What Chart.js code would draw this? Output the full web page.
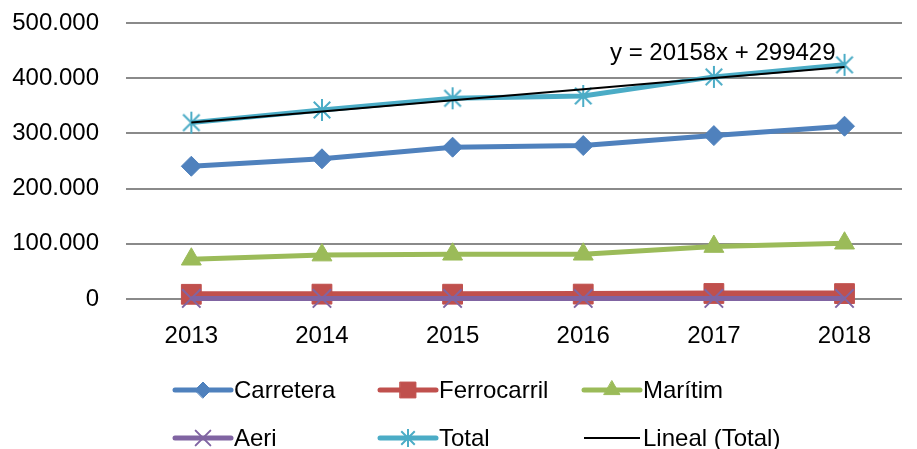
<!DOCTYPE html>
<html><head><meta charset="utf-8">
<script src="https://cdn.jsdelivr.net/npm/chart.js@4/dist/chart.umd.min.js"></script>
<style>html,body{margin:0;padding:0;background:#fff;}#wrap{width:917px;height:449px;}</style>
</head><body><div id="wrap"><canvas id="c" width="917" height="449"></canvas></div>
<script>
const years = [2013, 2014, 2015, 2016, 2017, 2018];
const carretera = [240500, 254000, 275000, 278000, 296000, 313000];
const ferrocarril = [8500, 8800, 8700, 8900, 10000, 9800];
const maritim = [72000, 79500, 81000, 81000, 95000, 101000];
const aeri = [1000, 1000, 1000, 1000, 1100, 1100];
const total = [319500, 342400, 363600, 367800, 402400, 424200];
const trendTotal = [319587, 339745, 359903, 380061, 400219, 420377];
const yTicks = [0, 100000, 200000, 300000, 400000, 500000];
const seriesNames = ['Carretera', 'Ferrocarril', 'Marítim', 'Aeri', 'Total', 'Lineal (Total)'];
const trendLabel = 'y = 20158x + 299429';

const FONT = {family: "'Liberation Sans', Arial, sans-serif", size: 24};
const FONT_CSS = "24px 'Liberation Sans', Arial, sans-serif";
const COLORS = ['#4F81BD', '#C0504D', '#9BBB59', '#8064A2', '#4BACC6', '#000000'];

function starCanvas(color, size, lw) {
  const c = document.createElement('canvas');
  c.width = size; c.height = size;
  const g = c.getContext('2d');
  g.strokeStyle = color; g.lineWidth = lw; g.lineCap = 'butt';
  const m = size / 2, r = size / 2 - 1;
  g.beginPath();
  g.moveTo(m, m - r); g.lineTo(m, m + r);
  const d = r * 0.75;
  g.moveTo(m - d, m - d); g.lineTo(m + d, m + d);
  g.moveTo(m + d, m - d); g.lineTo(m - d, m + d);
  g.stroke();
  return c;
}
const starImg = starCanvas(COLORS[4], 24, 2);
const starImgSmall = starCanvas(COLORS[4], 20, 2);

function pts(arr) { return arr.map((v, i) => ({x: years[i], y: v})); }
function fmt(v) { return String(v).replace(/\B(?=(\d{3})+(?!\d))/g, '.'); }

const styles = [
  {pointStyle: 'rectRot', radius: 10, bw: 1, lw: 5},
  {pointStyle: 'rect', radius: 14, bw: 1, lw: 6},
  {pointStyle: 'triangle', radius: 11.5, bw: 1, lw: 5},
  {pointStyle: 'crossRot', radius: 13, bw: 2, lw: 5},
  {pointStyle: starImg, radius: 12, bw: 2, lw: 5},
  {pointStyle: false, radius: 0, bw: 0, lw: 2}
];
const seriesData = [carretera, ferrocarril, maritim, aeri, total, trendTotal];
const orders = [5, 4, 3, 2, 1, 0];

const datasets = seriesData.map((d, i) => ({
  label: seriesNames[i],
  data: pts(d),
  borderColor: COLORS[i],
  backgroundColor: COLORS[i],
  borderWidth: styles[i].lw,
  pointStyle: styles[i].pointStyle,
  pointRadius: styles[i].radius,
  pointHoverRadius: styles[i].radius,
  pointBackgroundColor: COLORS[i],
  pointBorderColor: COLORS[i],
  pointBorderWidth: styles[i].bw,
  tension: 0,
  fill: false,
  clip: false,
  order: orders[i]
}));

const legendPlugin = {
  id: 'customLegend',
  afterDraw(chart) {
    const ctx = chart.ctx;
    const cols = [175, 380, 584];
    const rows = [390, 438];
    const sampleLen = 56;
    ctx.save();
    for (let i = 0; i < 6; i++) {
      const x = cols[i % 3], y = rows[Math.floor(i / 3)];
      ctx.strokeStyle = COLORS[i];
      ctx.lineWidth = i === 5 ? 2 : 5;
      ctx.lineCap = i === 5 ? 'butt' : 'round';
      ctx.beginPath();
      ctx.moveTo(x, y); ctx.lineTo(x + sampleLen, y);
      ctx.stroke();
      if (i < 5) {
        ctx.fillStyle = COLORS[i];
        ctx.strokeStyle = COLORS[i];
        ctx.lineWidth = styles[i].bw;
        const ps = i === 4 ? starImgSmall : styles[i].pointStyle;
        Chart.helpers.drawPoint(ctx, {pointStyle: ps, rotation: 0, radius: styles[i].radius * 0.8, borderWidth: styles[i].bw}, x + sampleLen / 2, y);
      }
      ctx.fillStyle = '#000';
      ctx.font = FONT_CSS;
      ctx.textBaseline = 'middle';
      ctx.textAlign = 'left';
      ctx.fillText(seriesNames[i], x + sampleLen + 3, y + 1);
    }
    ctx.fillText(trendLabel, 610, 53);
    ctx.restore();
  }
};

new Chart(document.getElementById('c'), {
  type: 'line',
  data: {datasets},
  plugins: [legendPlugin],
  options: {
    responsive: false,
    animation: false,
    devicePixelRatio: 1,
    layout: {padding: {top: 23, right: 0, left: 0, bottom: 0}},
    plugins: {legend: {display: false}, tooltip: {enabled: false}},
    scales: {
      x: {
        type: 'linear',
        min: 2012.5,
        max: 2018.44,
        afterBuildTicks: s => { s.ticks = years.map(v => ({value: v})); },
        afterFit: s => { s.height = 150; s.paddingLeft = 0; s.paddingRight = 0; s.paddingTop = 0; s.paddingBottom = 0; },
        grid: {display: false},
        border: {display: false},
        ticks: {font: FONT, color: '#000', padding: 15, maxRotation: 0, autoSkip: false, callback: v => String(v)}
      },
      y: {
        type: 'linear',
        min: 0,
        max: 500000,
        afterBuildTicks: s => { s.ticks = yTicks.map(v => ({value: v})); },
        afterFit: s => { s.width = 126; s.paddingLeft = 0; s.paddingRight = 0; s.paddingTop = 0; s.paddingBottom = 0; },
        grid: {color: '#8A8A8A', lineWidth: 2, drawTicks: false},
        border: {display: false},
        ticks: {font: FONT, color: '#000', padding: 27, callback: v => fmt(v)}
      }
    }
  }
});
</script></body></html>
